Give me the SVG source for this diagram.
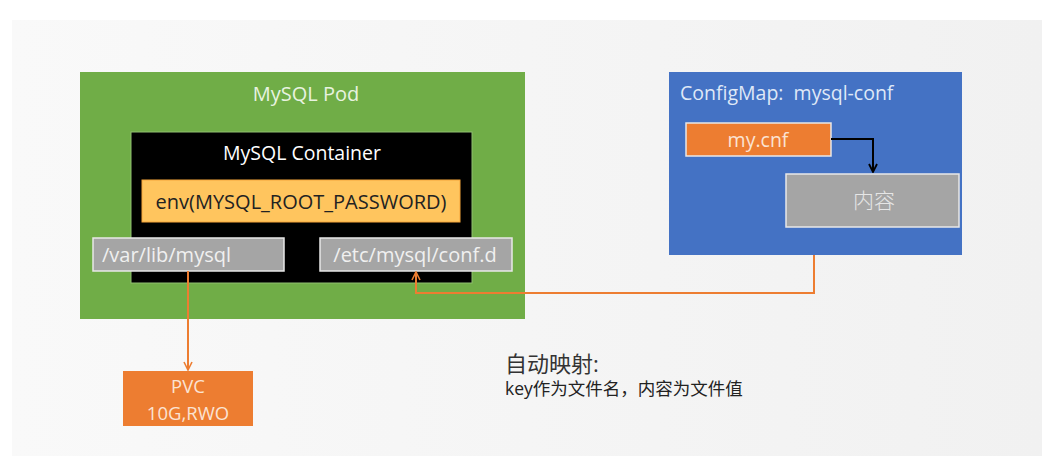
<svg xmlns="http://www.w3.org/2000/svg" width="1064" height="466" viewBox="0 0 1064 466">
<defs>
<linearGradient id="bg" x1="0" y1="0" x2="1" y2="0">
<stop offset="0" stop-color="#f9f9f9"/>
<stop offset="1" stop-color="#f1f1f1"/>
</linearGradient>
<marker id="arrO" viewBox="0 0 10 10" refX="9" refY="5" markerWidth="10" markerHeight="10" markerUnits="userSpaceOnUse" orient="auto">
<path d="M1,1 L9,5 L1,9" fill="none" stroke="#ed7d31" stroke-width="1.6"/>
</marker>
<marker id="arrK" viewBox="0 0 10 10" refX="9" refY="5" markerWidth="10" markerHeight="10" markerUnits="userSpaceOnUse" orient="auto">
<path d="M1,1 L9,5 L1,9" fill="none" stroke="#000" stroke-width="1.8"/>
</marker>
</defs>
<style>
.t{font-family:"Open Sans","Liberation Sans","Noto Sans CJK SC",sans-serif}
.w{fill:#ffffff}
.g{fill:#f0f0f0}
.box{stroke:#e8e8e8;stroke-width:1.5}
</style>
<rect x="0" y="0" width="1064" height="466" fill="#ffffff"/>
<rect x="12" y="20" width="1030" height="436" fill="url(#bg)"/>

<g id="pod">
<rect x="80" y="72" width="445" height="247" fill="#70ad47"/>
<text class="t" x="306" y="101" font-size="20" text-anchor="middle" fill="#e8f3e0">MySQL Pod</text>
</g>
<g id="container">
<rect x="131" y="132" width="341" height="151" fill="#000000" stroke="#8fbf70" stroke-width="1"/>
<text class="t w" x="302" y="160" font-size="19.5" text-anchor="middle">MySQL Container</text>
</g>
<g id="env">
<rect x="142" y="180" width="318" height="42" fill="#ffc55e" stroke="#f6a53a" stroke-width="1"/>
<text class="t" x="301" y="209" font-size="20" text-anchor="middle" fill="#222">env(MYSQL_ROOT_PASSWORD)</text>
</g>
<g id="varlib">
<rect x="93" y="238" width="191" height="33" fill="#a5a5a5" class="box"/>
<text class="t g" x="102" y="262" font-size="20">/var/lib/mysql</text>
</g>
<g id="etcconf">
<rect x="320" y="238" width="192" height="33" fill="#a5a5a5" class="box"/>
<text class="t g" x="415" y="262" font-size="20" text-anchor="middle">/etc/mysql/conf.d</text>
</g>
<g id="pvc">
<rect x="123" y="371" width="130" height="55" fill="#ed7d31"/>
<text class="t" x="188" y="393" font-size="18.5" text-anchor="middle" fill="#fbe3d3">PVC</text>
<text class="t" x="188" y="420" font-size="18.5" text-anchor="middle" fill="#fbe3d3">10G,RWO</text>
</g>
<g id="configmap">
<rect x="669" y="72" width="293" height="183" fill="#4472c4"/>
<text class="t" x="680" y="100" font-size="19.5" fill="#dfe8f7" xml:space="preserve">ConfigMap:  mysql-conf</text>
</g>
<g id="mycnf">
<rect x="686" y="123" width="145" height="33" fill="#ed7d31" class="box"/>
<text class="t" x="758" y="147" font-size="19.5" text-anchor="middle" fill="#fbe3d3">my.cnf</text>
</g>
<g id="content">
<rect x="786" y="174" width="173" height="53" fill="#a5a5a5" class="box"/>
<text x="874" y="208" font-size="21" text-anchor="middle" fill="#e6e6e6" font-family="'Noto Sans CJK SC',serif" font-weight="300">内容</text>
</g>
<g id="note">
<text class="t" x="505" y="372" font-size="22" fill="#333">自动映射:</text>
<text class="t" x="505" y="395" font-size="17.5" fill="#222">key作为文件名，内容为文件值</text>
</g>

<g id="connectors" fill="none">
<path d="M188,271 V370" stroke="#ed7d31" stroke-width="2" marker-end="url(#arrO)"/>
<path d="M814,255 V293 H416 V272" stroke="#ed7d31" stroke-width="2" marker-end="url(#arrO)"/>
<path d="M831,139 H873 V172" stroke="#000" stroke-width="2" marker-end="url(#arrK)"/>
</g>
</svg>
